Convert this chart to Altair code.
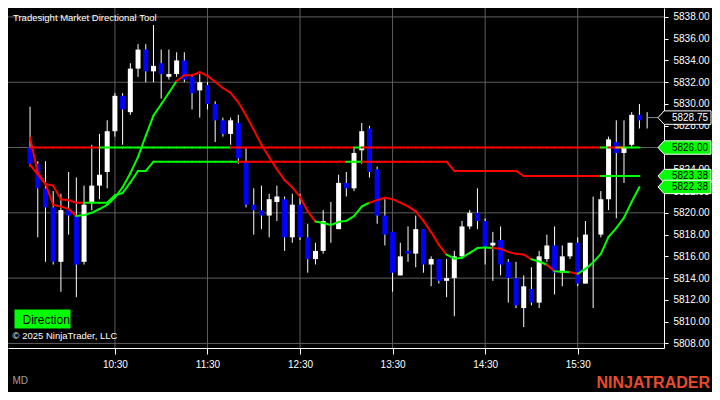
import altair as alt
import pandas as pd
import numpy as np

# ---------------- data ----------------
bar_minutes = list(range(575, 980, 5))  # 5-minute bars 09:35 ... 16:15 (minutes since midnight)

opens = [5826.00, 5824.50, 5822.25, 5820.50, 5815.50, 5820.25, 5819.75, 5815.50, 5821.00, 5822.50,
         5823.75, 5827.50, 5830.75, 5829.25, 5833.25, 5835.00, 5833.00, 5833.75, 5832.50, 5832.75,
         5834.00, 5832.50, 5831.25, 5831.75, 5830.00, 5828.50, 5827.25, 5828.25, 5824.75, 5820.75,
         5820.25, 5819.75, 5821.00, 5821.25, 5817.75, 5820.75, 5817.75, 5815.75, 5816.50, 5819.00,
         5818.50, 5822.75, 5822.25, 5825.75, 5827.75, 5824.00, 5819.75, 5818.25, 5814.25, 5816.50,
         5816.25, 5818.50, 5815.25, 5815.75, 5813.75, 5814.00, 5816.00, 5818.75, 5820.00, 5819.25,
         5817.00, 5817.50, 5815.50, 5814.00, 5811.25, 5813.00, 5811.75, 5815.75, 5817.00, 5814.50,
         5816.00, 5817.25, 5813.50, 5818.00, 5818.00, 5821.25, 5826.50, 5825.50, 5826.25, 5829.00,
         5828.75]
highs = [5829.75, 5824.75, 5824.75, 5822.00, 5821.75, 5823.75, 5823.25, 5822.50, 5826.25, 5827.25,
         5828.50, 5831.00, 5831.00, 5833.75, 5835.50, 5835.50, 5837.25, 5835.00, 5835.00, 5834.75,
         5834.75, 5832.75, 5832.75, 5832.00, 5830.25, 5828.75, 5828.75, 5829.00, 5826.00, 5822.25,
         5822.50, 5821.75, 5822.50, 5821.50, 5821.75, 5821.75, 5819.00, 5817.25, 5820.25, 5821.00,
         5823.50, 5823.75, 5826.00, 5828.25, 5828.00, 5824.25, 5821.25, 5818.25, 5817.25, 5818.75,
         5819.75, 5818.50, 5816.00, 5815.75, 5815.75, 5816.50, 5819.25, 5820.25, 5822.25, 5819.50,
         5818.25, 5818.75, 5815.75, 5815.50, 5814.25, 5815.00, 5816.50, 5818.00, 5818.75, 5817.00,
         5817.25, 5817.75, 5819.25, 5821.50, 5822.00, 5827.00, 5828.50, 5828.50, 5829.25, 5830.00,
         5829.25]
lows = [5824.25, 5817.75, 5815.50, 5815.25, 5812.75, 5818.00, 5812.25, 5815.25, 5820.25, 5821.25,
        5822.25, 5827.00, 5826.25, 5829.00, 5832.50, 5832.00, 5832.00, 5830.50, 5832.25, 5832.50,
        5832.00, 5829.50, 5828.75, 5829.50, 5826.50, 5827.00, 5826.25, 5824.50, 5820.50, 5818.00,
        5818.50, 5817.75, 5819.25, 5816.50, 5817.25, 5817.50, 5814.50, 5815.25, 5816.25, 5817.25,
        5818.50, 5821.50, 5822.00, 5824.50, 5823.25, 5819.00, 5817.00, 5812.75, 5814.25, 5815.50,
        5815.00, 5814.50, 5813.25, 5813.50, 5812.25, 5810.50, 5815.75, 5818.50, 5818.50, 5815.25,
        5813.75, 5814.25, 5811.75, 5811.25, 5809.50, 5811.50, 5811.25, 5815.50, 5812.50, 5813.25,
        5815.75, 5813.25, 5813.50, 5811.25, 5817.75, 5820.25, 5819.50, 5822.75, 5826.00, 5827.75,
        5827.75]
closes = [5824.50, 5822.25, 5820.50, 5815.50, 5820.25, 5819.75, 5815.25, 5820.75, 5822.50, 5823.50,
          5827.50, 5830.75, 5829.50, 5833.25, 5835.00, 5833.00, 5833.50, 5832.75, 5832.75, 5834.00,
          5832.25, 5831.00, 5832.00, 5830.00, 5828.50, 5827.25, 5828.50, 5825.00, 5820.75, 5820.25,
          5819.75, 5821.25, 5821.50, 5817.75, 5820.75, 5817.75, 5815.75, 5816.50, 5819.25, 5819.00,
          5822.75, 5822.25, 5825.50, 5827.50, 5823.75, 5819.75, 5818.00, 5814.50, 5816.00, 5816.25,
          5818.50, 5815.25, 5815.75, 5813.75, 5814.00, 5816.00, 5818.75, 5820.00, 5819.25, 5816.75,
          5817.25, 5815.25, 5814.00, 5811.50, 5813.25, 5811.75, 5816.00, 5817.00, 5814.50, 5816.00,
          5817.25, 5813.50, 5818.00, 5818.00, 5821.25, 5826.75, 5825.50, 5826.00, 5829.00, 5828.50,
          5828.75]

# indicator lines (one value per bar, bars 0..79)
open_line_value = 5826.00
step_line = ([5826.91, 5823.67, 5822.65, 5822.50, 5821.23, 5821.17, 5820.93, 5820.93, 5820.93, 5820.93,
              5820.93, 5821.61, 5821.82, 5822.79, 5823.85, 5823.85]
             + [5824.70] * 39 + [5823.85] * 9 + [5823.38] * 16)
ma_line = [5824.41, 5823.53, 5822.65, 5820.73, 5820.58, 5820.35, 5819.70, 5819.79, 5820.00, 5820.35,
           5820.73, 5821.41, 5822.35, 5823.64, 5825.14, 5827.08, 5828.94, 5829.98, 5831.03, 5832.11,
           5832.64, 5832.64, 5832.93, 5832.58, 5832.05, 5831.47, 5831.03, 5830.15, 5828.94, 5827.62,
           5826.26, 5825.10, 5824.00, 5823.00, 5822.35, 5821.46, 5820.14, 5819.20, 5819.06, 5818.88,
           5819.17, 5819.26, 5819.70, 5820.58, 5820.93, 5821.17, 5821.38, 5821.26, 5820.93, 5820.60,
           5820.14, 5819.26, 5818.23, 5817.05, 5816.17, 5815.79, 5815.88, 5816.32, 5816.76, 5816.82,
           5816.76, 5816.70, 5816.41, 5816.23, 5816.17, 5815.73, 5815.53, 5815.23, 5814.64, 5814.58,
           5814.55, 5814.40, 5814.85, 5815.44, 5816.23, 5817.79, 5818.59, 5819.56, 5821.02, 5822.38]

# segment colour runs (R = red, G = green, O = orange)
open_runs = [("R", 9), ("G", 17), ("R", 16), ("G", 1), ("R", 31), ("G", 1), ("R", 1), ("O", 1), ("G", 2)]
step_runs = [("R", 7), ("G", 20), ("R", 14), ("G", 2), ("R", 31), ("G", 5)]
ma_runs = [("R", 6), ("G", 13), ("R", 18), ("G", 7), ("R", 10), ("G", 6), ("R", 5), ("G", 2),
           ("R", 1), ("G", 2), ("R", 1), ("G", 8)]

hour_ticks = [630, 690, 750, 810, 870, 930]          # 10:30 ... 15:30
price_labels = list(range(5808, 5840, 2))
price_grid = [5808, 5814, 5820, 5826, 5832, 5838]

# ---------------- layout / style ----------------
W, H = 656, 340
FONT = "Arial, Liberation Sans, sans-serif"
RED, GREEN, ORANGE, BLUE = "#FF0000", "#00FF00", "#FFA500", "#0000FF"
CMAP = {"R": RED, "G": GREEN, "O": ORANGE}
xs = alt.Scale(domain=[563.94, 982.69], nice=False, zero=False)
ys = alt.Scale(domain=[5807.58, 5838.82], nice=False, zero=False)

bars = pd.DataFrame({"t": bar_minutes, "o": opens, "h": highs, "l": lows, "c": closes})
bars["body"] = np.where(bars["c"] >= bars["o"], "#FFFFFF", BLUE)


def segments(values, runs, name):
    cols = [c for c, n in runs for _ in range(n)]
    rows = []
    for k in range(len(values) - 1):
        rows.append({"line": name, "t0": bar_minutes[k], "t1": bar_minutes[k + 1],
                     "v0": values[k], "v1": values[k + 1], "col": CMAP[cols[k]]})
    return rows


open_vals = [open_line_value] * len(step_line)
seg = pd.DataFrame(segments(open_vals, open_runs, "open")
                   + segments(step_line, step_runs, "step")
                   + segments(ma_line, ma_runs, "ma"))

x_axis = alt.Axis(values=hour_ticks,
                  labelExpr="floor(datum.value / 60) + ':' + (datum.value % 60 < 10 ? '0' : '') + (datum.value % 60)",
                  grid=False, domainColor="white", tickColor="white", tickSize=6,
                  labelColor="white", labelFontSize=10, labelFont=FONT, labelPadding=5,
                  title="MD", titleColor="#A0A0A0", titleFontSize=10, titleFont=FONT,
                  titleFontWeight="normal", titleX=4, titleY=32, titleAlign="left",
                  titleBaseline="middle", titleAnchor="start")
# the label sitting exactly under the open-price tag is fully covered in the original
y_axis = alt.Axis(orient="right", values=price_labels,
                  labelExpr=f"datum.value == {open_line_value} ? '' : format(datum.value, '.2f')",
                  grid=False,
                  domainColor="white", tickColor="white", tickSize=4, labelPadding=5,
                  labelColor="white", labelFontSize=10, labelFont=FONT, labelOverlap=False,
                  labelFlush=False, title=None)


def X(field):
    return alt.X(field, scale=xs, axis=x_axis)


def Y(field):
    return alt.Y(field, scale=ys, axis=y_axis)


grid_h = alt.Chart(pd.DataFrame({"p": price_grid})).mark_rule(color="#5E5E5E", strokeWidth=1).encode(
    y=Y("p:Q"))
grid_v = alt.Chart(pd.DataFrame({"t": hour_ticks})).mark_rule(color="#5E5E5E", strokeWidth=1).encode(
    x=X("t:Q"))

wicks = alt.Chart(bars).mark_rule(color="white", strokeWidth=1).encode(
    x=X("t:Q"), y=Y("l:Q"), y2="h:Q")
bodies = alt.Chart(bars).mark_bar(size=5).encode(
    x=X("t:Q"), y=Y("o:Q"), y2="c:Q",
    color=alt.Color("body:N", scale=None))

lines = alt.Chart(seg).mark_rule(strokeWidth=2, strokeCap="round").encode(
    x=X("t0:Q"), x2="t1:Q",
    y=Y("v0:Q"), y2="v1:Q",
    color=alt.Color("col:N", scale=None))

last = pd.DataFrame({"t": [bar_minutes[-1]], "v": [closes[-1]]})
connector = alt.Chart(last).mark_rule(color="#8A8A8A", strokeWidth=1).encode(
    x=X("t:Q"), x2=alt.value(W - 6), y=Y("v:Q"))

tag_vals = [closes[-1], open_line_value, step_line[-1], ma_line[-1]]
tags = pd.DataFrame({"v": tag_vals,
                     "fill": ["#000000", GREEN, GREEN, GREEN],
                     "tc": ["#FFFFFF", "#000000", "#000000", "#000000"],
                     "label": [f"{v:.2f}" for v in tag_vals]})
TAG_PATH = "M -1 0 L -0.77 -0.253 L 1 -0.253 L 1 0.253 L -0.77 0.253 Z"
tag_shapes = alt.Chart(tags).mark_point(shape=TAG_PATH, size=53 * 53, filled=True, opacity=1,
                                         stroke="white", strokeWidth=1).encode(
    x=alt.value(W + 20.5),
    y=Y("v:Q"),
    fill=alt.Fill("fill:N", scale=None))
tag_text = alt.Chart(tags).mark_text(align="center", baseline="middle", fontSize=10, font=FONT).encode(
    x=alt.value(W + 26),
    y=Y("v:Q"),
    text="label:N",
    color=alt.Color("tc:N", scale=None))

note = pd.DataFrame({"s": ["x"]})
title_txt = alt.Chart(note).mark_text(align="left", baseline="middle", color="white", fontSize=9.5,
                                      font=FONT, text="Tradesight Market Directional Tool").encode(
    x=alt.value(5), y=alt.value(10))
dir_box = alt.Chart(note).mark_rect(color=GREEN).encode(
    x=alt.value(6.5), x2=alt.value(62.5), y=alt.value(301.5), y2=alt.value(320.5))
dir_txt = alt.Chart(note).mark_text(align="left", baseline="middle", color="black", fontSize=12,
                                    font=FONT, text="Direction").encode(
    x=alt.value(14.5), y=alt.value(311.5))
copy_txt = alt.Chart(note).mark_text(align="left", baseline="middle", color="white", fontSize=9.5,
                                     font=FONT, text="© 2025 NinjaTrader, LLC").encode(
    x=alt.value(4.5), y=alt.value(328))
logo_txt = alt.Chart(note).mark_text(align="right", baseline="middle", color="#E84C2D", fontSize=16,
                                     fontWeight="bold", font=FONT, text="NINJATRADER").encode(
    x=alt.value(W + 46), y=alt.value(H + 35))

chart = alt.layer(
    grid_h, grid_v, wicks, bodies, lines, connector, tag_shapes, tag_text,
    title_txt, dir_box, dir_txt, copy_txt, logo_txt
).properties(
    width=W, height=H,
    padding={"left": 0, "top": 0, "right": 48, "bottom": 44},
    autosize=alt.AutoSizeParams(type="none"),
    background="black",
).configure_view(stroke=None)

chart.save("out.html", embed_options={"renderer": "svg", "actions": False})
